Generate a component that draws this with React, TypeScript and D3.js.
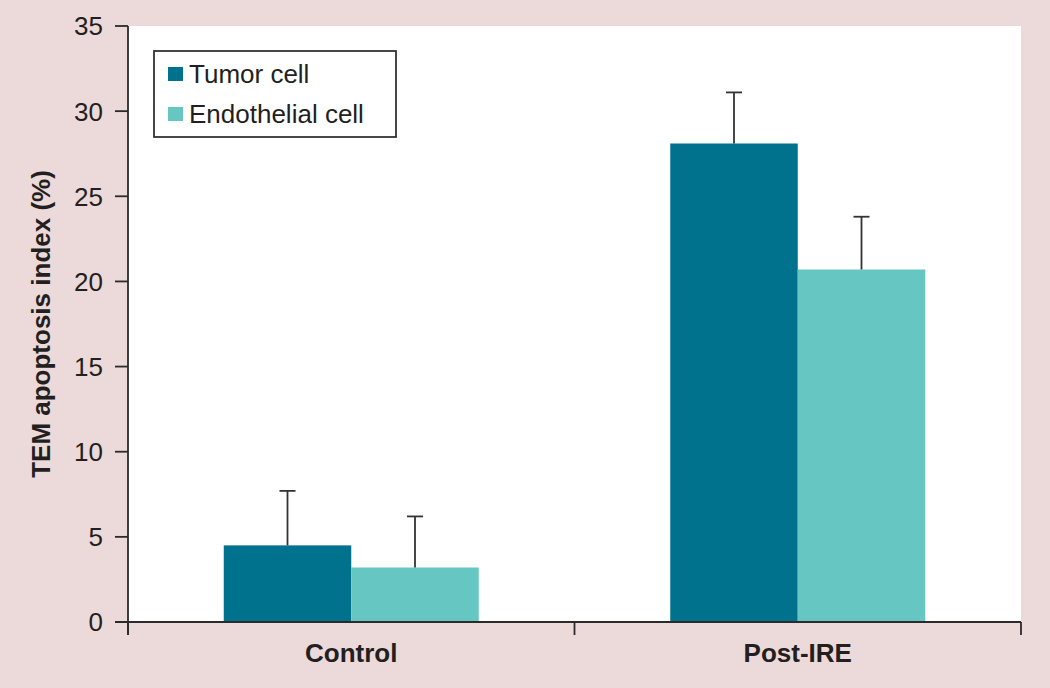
import * as d3 from "d3";

const groups = ["Control", "Post-IRE"];
const seriesNames = ["Tumor cell", "Endothelial cell"];
const seriesColors = ["#00728e", "#66c7c2"];
const tumorValues = [4.5, 28.1];
const tumorErrors = [3.2, 3.0];
const endoValues = [3.2, 20.7];
const endoErrors = [3.0, 3.1];
const yTicks = [0, 5, 10, 15, 20, 25, 30, 35];

const W = 1050;
const H = 688;
const margin = { top: 26, right: 29, bottom: 66, left: 128 };
const font = "'Liberation Sans', Arial, Helvetica, sans-serif";

export default function App() {
  const innerW = W - margin.left - margin.right;
  const innerH = H - margin.top - margin.bottom;

  const x = d3.scaleBand().domain(groups).range([0, innerW]).padding(0);
  const x1 = d3
    .scaleBand()
    .domain(seriesNames)
    .range([0, 255])
    .padding(0);
  const y = d3.scaleLinear().domain([0, 35]).range([innerH, 0]);

  const series = [
    { name: seriesNames[0], values: tumorValues, errors: tumorErrors, color: seriesColors[0] },
    { name: seriesNames[1], values: endoValues, errors: endoErrors, color: seriesColors[1] },
  ];

  const groupOffset = (x.bandwidth() - 255) / 2;
  const axisColor = "#2b2b2b";

  return (
    <svg
      width={W}
      height={H}
      style={{ position: "absolute", left: 0, top: 0, fontFamily: font }}
    >
      <rect width={W} height={H} fill="#ecd9d9" />
      <g transform={`translate(${margin.left},${margin.top})`}>
        <rect width={innerW} height={innerH} fill="#ffffff" />

        {series.map((s) =>
          groups.map((g, i) => {
            const bx = (x(g) as number) + groupOffset + (x1(s.name) as number);
            const bw = x1.bandwidth();
            const cx = bx + bw / 2;
            const top = y(s.values[i] + s.errors[i]);
            return (
              <g key={s.name + g}>
                <rect
                  x={bx}
                  y={y(s.values[i])}
                  width={bw}
                  height={innerH - y(s.values[i])}
                  fill={s.color}
                />
                <line x1={cx} x2={cx} y1={y(s.values[i])} y2={top} stroke="#333" strokeWidth={1.8} />
                <line x1={cx - 8} x2={cx + 8} y1={top} y2={top} stroke="#333" strokeWidth={1.8} />
              </g>
            );
          })
        )}

        {/* y axis */}
        <line x1={0} x2={0} y1={0} y2={innerH + 13} stroke={axisColor} strokeWidth={1.8} />
        {yTicks.map((t) => (
          <g key={t} transform={`translate(0,${y(t)})`}>
            <line x1={-13} x2={0} stroke={axisColor} strokeWidth={1.8} />
            <text x={-25} dy="0.36em" textAnchor="end" fontSize={26} fill="#231f20">
              {t}
            </text>
          </g>
        ))}

        {/* x axis */}
        <line x1={-13} x2={innerW} y1={innerH} y2={innerH} stroke={axisColor} strokeWidth={1.8} />
        {[0, x("Post-IRE") as number, innerW].map((p, i) => (
          <line key={i} x1={p} x2={p} y1={innerH} y2={innerH + 13} stroke={axisColor} strokeWidth={1.8} />
        ))}
        {groups.map((g) => (
          <text
            key={g}
            x={(x(g) as number) + x.bandwidth() / 2}
            y={innerH + 40}
            textAnchor="middle"
            fontSize={26}
            fontWeight="bold"
            fill="#231f20"
          >
            {g}
          </text>
        ))}

        <text
          transform={`translate(${-78},${innerH / 2}) rotate(-90)`}
          textAnchor="middle"
          fontSize={26}
          fontWeight="bold"
          fill="#231f20"
        >
          TEM apoptosis index (%)
        </text>

        {/* legend */}
        <g transform="translate(26,25)">
          <rect width={242} height={86} fill="#fff" stroke="#333" strokeWidth={1.8} />
          {series.map((s, i) => (
            <g key={s.name} transform={`translate(14,${23 + i * 40})`}>
              <rect x={0} y={-7} width={15} height={14} fill={s.color} />
              <text x={21} dy="0.36em" fontSize={26} fill="#231f20">
                {s.name}
              </text>
            </g>
          ))}
        </g>
      </g>
    </svg>
  );
}
